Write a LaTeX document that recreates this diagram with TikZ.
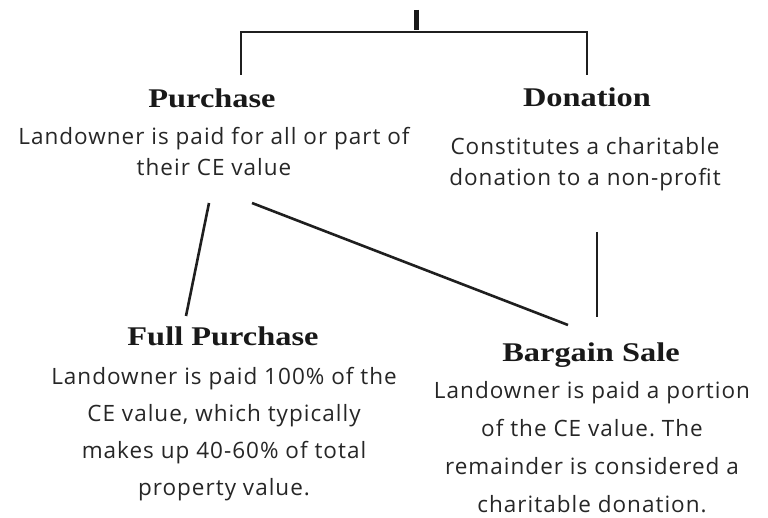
\documentclass[tikz,border=0pt]{standalone}
\usepackage{fontspec}
\setsansfont[LetterSpace=4.5]{Open Sans}
\newfontfamily\titlefont{Liberation Serif}
\frenchspacing
\begin{document}
\begin{tikzpicture}[x=1pt,y=-1pt,
  title/.style={inner sep=0pt,anchor=base,text=black!90,
    font={\titlefont\bfseries\fontsize{27}{30}\selectfont}},
  bodytop/.style={inner sep=0pt,anchor=base,align=center,text=black!85,
    font={\sffamily\fontsize{22.5}{31}\selectfont}},
  bodybot/.style={inner sep=0pt,anchor=base,align=center,text=black!85,
    font={\sffamily\fontsize{22.5}{37}\selectfont}},
  bodybotb/.style={bodybot,font={\sffamily\fontsize{22.5}{38}\selectfont}},
  conn/.style={line width=2.6pt,black!88}]
\useasboundingbox (0,0) rectangle (768,518);
% titles
\node[title] (purch) at (212,108) {\scalebox{1.2}[1]{Purchase}};
\node[title] (don) at (587,107) {\scalebox{1.2}[1]{Donation}};
\node[title] (full) at (223,345) {\scalebox{1.2}[1]{Full Purchase}};
\node[title] (barg) at (591,362) {\scalebox{1.2}[1]{Bargain Sale}};
% bodies (base anchor = last line)
\node[bodytop] (purchtxt) at (214,176) {Landowner is paid for all or part of\\their CE value};
\node[bodytop] (dontxt) at (585,186) {Constitutes a charitable\\donation to a non-profit};
\node[bodybot] (fulltxt) at (224,495) {Landowner is paid 100\% of the\\CE value, which typically\\makes up 40-60\% of total\\property value.};
\node[bodybotb] (bargtxt) at (592,512) {Landowner is paid a portion\\of the CE value. The\\remainder is considered a\\charitable donation.};
% top bracket
\coordinate (root) at (416,10);
\coordinate (junc) at (416,30);
\coordinate (pl) at (241,32);
\coordinate (dr) at (587,32);
\coordinate (pend) at (241,75);
\coordinate (dend) at (587,75);
\draw[line width=5pt,black!90] (root) -- (junc);
\draw[conn,line join=miter] (pend) -- (pl) -- (dr) -- (dend);
% lower connectors
\coordinate (a1) at (209,203);
\coordinate (a2) at (186,316);
\coordinate (b1) at (252,203);
\coordinate (b2) at (568,325);
\coordinate (c1) at (597,232);
\coordinate (c2) at (597,317);
\draw[conn] (a1) -- (a2);
\draw[conn] (b1) -- (b2);
\draw[conn] (c1) -- (c2);
\end{tikzpicture}
\end{document}
